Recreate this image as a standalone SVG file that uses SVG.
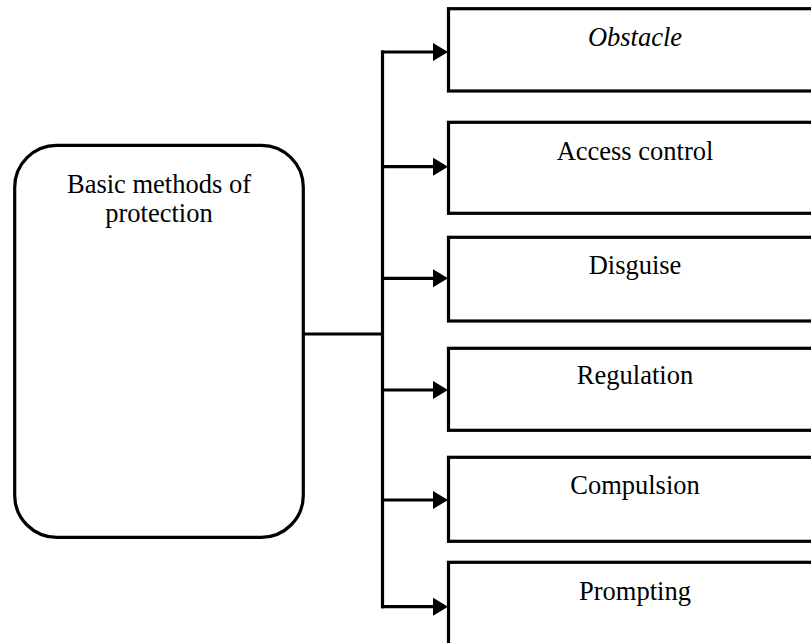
<svg xmlns="http://www.w3.org/2000/svg" width="811" height="643" viewBox="0 0 811 643">
  <style>
    .box { fill: #ffffff; stroke: #000000; stroke-width: 3.2; }
    .lbl { font-family: "Liberation Serif", "Times New Roman", serif; font-size: 26.5px; fill: #000000; text-anchor: middle; }
    .conn { fill: none; stroke: #000000; stroke-width: 3.2; }
  </style>
  <defs>
    <marker id="arrow" markerUnits="userSpaceOnUse" viewBox="0 0 15 18" refX="0.5" refY="9" markerWidth="15" markerHeight="18" orient="auto">
      <path d="M0,0 L15,9 L0,18 Z" fill="#000000"/>
    </marker>
  </defs>
  <rect width="811" height="643" fill="#ffffff"/>

  <g id="root">
    <rect class="box" x="14.7" y="145.3" width="288.6" height="392" rx="42" ry="42"/>
    <text class="lbl" x="159" y="193">Basic methods of</text>
    <text class="lbl" x="159" y="222">protection</text>
  </g>

  <g id="obstacle">
    <rect class="box" x="448.5" y="8.7" width="380" height="82.3"/>
    <text class="lbl" x="635" y="45.5" font-style="italic">Obstacle</text>
  </g>
  <g id="access-control">
    <rect class="box" x="448.5" y="122.3" width="380" height="91"/>
    <text class="lbl" x="635" y="160">Access control</text>
  </g>
  <g id="disguise">
    <rect class="box" x="448.5" y="237.3" width="380" height="83.7"/>
    <text class="lbl" x="635" y="274.3">Disguise</text>
  </g>
  <g id="regulation">
    <rect class="box" x="448.5" y="348.3" width="380" height="82"/>
    <text class="lbl" x="635" y="384">Regulation</text>
  </g>
  <g id="compulsion">
    <rect class="box" x="448.5" y="457.3" width="380" height="84"/>
    <text class="lbl" x="635" y="494.3">Compulsion</text>
  </g>
  <g id="prompting">
    <rect class="box" x="448.5" y="562.3" width="380" height="100"/>
    <text class="lbl" x="635" y="600">Prompting</text>
  </g>

  <g id="connectors">
    <line class="conn" x1="303.3" y1="334" x2="382.5" y2="334"/>
    <line class="conn" x1="382.5" y1="52" x2="382.5" y2="606.7" stroke-linecap="square"/>
    <line class="conn" x1="381" y1="52" x2="433.5" y2="52" marker-end="url(#arrow)"/>
    <line class="conn" x1="381" y1="166.7" x2="433.5" y2="166.7" marker-end="url(#arrow)"/>
    <line class="conn" x1="381" y1="278.3" x2="433.5" y2="278.3" marker-end="url(#arrow)"/>
    <line class="conn" x1="381" y1="390" x2="433.5" y2="390" marker-end="url(#arrow)"/>
    <line class="conn" x1="381" y1="500" x2="433.5" y2="500" marker-end="url(#arrow)"/>
    <line class="conn" x1="381" y1="606.7" x2="433.5" y2="606.7" marker-end="url(#arrow)"/>
  </g>
</svg>
